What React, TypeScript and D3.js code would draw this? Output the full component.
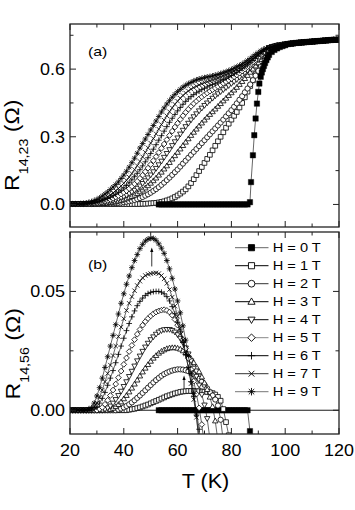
import React from 'react';
import * as d3 from 'd3';

// ---------------- data ----------------
const FIELD_LABELS = ['H = 0 T', 'H = 1 T', 'H = 2 T', 'H = 3 T', 'H = 4 T', 'H = 5 T', 'H = 6 T', 'H = 7 T', 'H = 9 T'];
const SYMBOLS = ['squareFilled', 'square', 'circle', 'triangleUp', 'triangleDown', 'diamond', 'plus', 'cross', 'star'];
const LEGEND_LINE_COLORS = ['#666', '#000', '#333', '#000', '#000', '#888', '#000', '#333', '#777'];

const X_DOMAIN = [20, 120];
const X_TICKS = [20, 40, 60, 80, 100, 120];
const X_MINOR = [30, 50, 70, 90, 110];
const TOP_Y_DOMAIN = [-0.1, 0.8];
const TOP_Y_TICKS = [0, 0.3, 0.6];
const TOP_Y_LABELS = ['0.0', '0.3', '0.6'];
const TOP_Y_MINOR = [0.15, 0.45, 0.75];
const BOT_Y_DOMAIN = [-0.01, 0.075];
const BOT_Y_TICKS = [0, 0.05];
const BOT_Y_LABELS = ['0.00', '0.05'];
const BOT_Y_MINOR = [0.025];

// R14,23 (top panel), H>0 curves: T = 20, 21, ... 93 K
const R23_H1 = [
  0.002, 0.002, 0.002, 0.002, 0.002, 0.002, 0.002, 0.002, 0.002, 0.002,
  0.002, 0.002, 0.002, 0.002, 0.002, 0.002, 0.002, 0.002, 0.002, 0.002,
  0.002, 0.002, 0.002, 0.002, 0.002, 0.002, 0.002, 0.003, 0.003, 0.004,
  0.005, 0.006, 0.007, 0.009, 0.011, 0.014, 0.018, 0.022, 0.027, 0.033,
  0.040, 0.048, 0.057, 0.067, 0.080, 0.095, 0.112, 0.130, 0.148, 0.166,
  0.184, 0.202, 0.220, 0.240, 0.260, 0.280, 0.300, 0.320, 0.340, 0.358,
  0.376, 0.393, 0.410, 0.430, 0.450, 0.475, 0.500, 0.525, 0.550, 0.577,
  0.605, 0.632, 0.658, 0.678];
const R23_H2 = [
  0.002, 0.002, 0.002, 0.002, 0.002, 0.002, 0.002, 0.002, 0.002, 0.002,
  0.002, 0.002, 0.002, 0.003, 0.003, 0.004, 0.005, 0.006, 0.007, 0.008,
  0.010, 0.012, 0.014, 0.017, 0.020, 0.024, 0.028, 0.033, 0.039, 0.045,
  0.052, 0.060, 0.068, 0.077, 0.087, 0.097, 0.108, 0.119, 0.131, 0.143,
  0.155, 0.168, 0.181, 0.194, 0.207, 0.220, 0.233, 0.246, 0.259, 0.272,
  0.285, 0.298, 0.311, 0.324, 0.337, 0.350, 0.363, 0.376, 0.390, 0.404,
  0.418, 0.433, 0.448, 0.464, 0.480, 0.497, 0.514, 0.532, 0.551, 0.571,
  0.592, 0.614, 0.638, 0.664];
const R23_H3 = [
  0.002, 0.002, 0.002, 0.002, 0.002, 0.002, 0.002, 0.002, 0.002, 0.002,
  0.003, 0.003, 0.004, 0.005, 0.006, 0.008, 0.010, 0.012, 0.015, 0.018,
  0.021, 0.025, 0.030, 0.035, 0.041, 0.048, 0.056, 0.064, 0.073, 0.083,
  0.094, 0.105, 0.117, 0.130, 0.143, 0.157, 0.171, 0.186, 0.201, 0.216,
  0.231, 0.246, 0.261, 0.276, 0.291, 0.306, 0.320, 0.334, 0.348, 0.361,
  0.374, 0.387, 0.399, 0.411, 0.423, 0.435, 0.447, 0.459, 0.471, 0.483,
  0.495, 0.507, 0.519, 0.532, 0.545, 0.558, 0.572, 0.586, 0.600, 0.614,
  0.628, 0.643, 0.658, 0.672];
const R23_H4 = [
  0.002, 0.002, 0.002, 0.002, 0.002, 0.002, 0.002, 0.002, 0.003, 0.003,
  0.004, 0.005, 0.007, 0.009, 0.011, 0.014, 0.017, 0.021, 0.025, 0.030,
  0.035, 0.041, 0.048, 0.055, 0.063, 0.072, 0.082, 0.093, 0.105, 0.118,
  0.131, 0.145, 0.160, 0.176, 0.192, 0.209, 0.226, 0.243, 0.261, 0.278,
  0.295, 0.312, 0.329, 0.345, 0.360, 0.375, 0.389, 0.402, 0.415, 0.427,
  0.439, 0.450, 0.461, 0.471, 0.481, 0.491, 0.500, 0.509, 0.518, 0.527,
  0.536, 0.545, 0.554, 0.564, 0.574, 0.584, 0.595, 0.606, 0.618, 0.630,
  0.642, 0.654, 0.667, 0.679];
const R23_H5 = [
  0.002, 0.002, 0.002, 0.002, 0.002, 0.002, 0.002, 0.003, 0.004, 0.005,
  0.006, 0.008, 0.011, 0.014, 0.018, 0.022, 0.027, 0.033, 0.039, 0.046,
  0.053, 0.061, 0.070, 0.080, 0.091, 0.103, 0.116, 0.130, 0.145, 0.161,
  0.177, 0.194, 0.212, 0.230, 0.249, 0.268, 0.287, 0.306, 0.325, 0.343,
  0.360, 0.377, 0.393, 0.408, 0.422, 0.435, 0.447, 0.458, 0.468, 0.477,
  0.486, 0.494, 0.502, 0.509, 0.516, 0.523, 0.530, 0.537, 0.544, 0.551,
  0.558, 0.566, 0.574, 0.582, 0.591, 0.600, 0.610, 0.620, 0.630, 0.641,
  0.652, 0.663, 0.674, 0.684];
const R23_H6 = [
  0.002, 0.002, 0.002, 0.002, 0.002, 0.002, 0.003, 0.004, 0.005, 0.007,
  0.009, 0.012, 0.016, 0.021, 0.026, 0.032, 0.039, 0.046, 0.054, 0.063,
  0.073, 0.084, 0.096, 0.109, 0.123, 0.138, 0.154, 0.171, 0.189, 0.207,
  0.226, 0.245, 0.265, 0.285, 0.305, 0.325, 0.345, 0.364, 0.382, 0.399,
  0.415, 0.430, 0.444, 0.457, 0.468, 0.478, 0.487, 0.495, 0.502, 0.509,
  0.515, 0.521, 0.527, 0.532, 0.537, 0.542, 0.548, 0.554, 0.560, 0.566,
  0.572, 0.579, 0.586, 0.594, 0.602, 0.610, 0.619, 0.628, 0.638, 0.648,
  0.658, 0.668, 0.678, 0.686];
const R23_H7 = [
  0.002, 0.002, 0.002, 0.002, 0.002, 0.003, 0.004, 0.005, 0.007, 0.010,
  0.012, 0.016, 0.021, 0.027, 0.034, 0.042, 0.051, 0.061, 0.071, 0.082,
  0.094, 0.107, 0.121, 0.137, 0.154, 0.172, 0.191, 0.211, 0.231, 0.251,
  0.272, 0.292, 0.313, 0.334, 0.354, 0.374, 0.393, 0.411, 0.428, 0.444,
  0.458, 0.471, 0.483, 0.494, 0.503, 0.511, 0.518, 0.524, 0.530, 0.535,
  0.540, 0.544, 0.548, 0.552, 0.556, 0.560, 0.565, 0.570, 0.575, 0.580,
  0.586, 0.592, 0.598, 0.605, 0.612, 0.620, 0.628, 0.637, 0.646, 0.655,
  0.664, 0.673, 0.682, 0.689];
const R23_H9 = [
  0.003, 0.003, 0.003, 0.003, 0.004, 0.005, 0.006, 0.009, 0.012, 0.017,
  0.022, 0.029, 0.037, 0.046, 0.055, 0.066, 0.077, 0.088, 0.100, 0.115,
  0.130, 0.147, 0.165, 0.185, 0.205, 0.227, 0.250, 0.270, 0.290, 0.310,
  0.330, 0.350, 0.370, 0.390, 0.410, 0.428, 0.445, 0.460, 0.475, 0.488,
  0.500, 0.510, 0.520, 0.528, 0.535, 0.541, 0.547, 0.552, 0.556, 0.559,
  0.562, 0.565, 0.567, 0.570, 0.573, 0.576, 0.580, 0.584, 0.588, 0.593,
  0.598, 0.604, 0.610, 0.616, 0.622, 0.630, 0.638, 0.647, 0.656, 0.665,
  0.673, 0.681, 0.688, 0.692];
// normal state, common to all fields: T = 94, 95, ... 120 K
const R23_NORMAL = [
  0.694, 0.698, 0.701, 0.704, 0.706, 0.708, 0.710, 0.711, 0.713, 0.714,
  0.716, 0.717, 0.718, 0.719, 0.720, 0.721, 0.722, 0.723, 0.724, 0.725,
  0.726, 0.727, 0.728, 0.729, 0.730, 0.730, 0.731];
// H = 0 (top panel)
const R23_H0_T = [
  53, 54, 55, 56, 57, 58, 59, 60, 61, 62, 63, 64, 65, 66, 67, 68, 69,
  70, 71, 72, 73, 74, 75, 76, 77, 78, 79, 80, 81, 82, 83, 84, 85, 86,
  86.9, 87.3, 88.0, 88.5, 89.0, 89.5, 90.0, 90.4, 90.9, 91.3, 91.7, 92.1,
  92.5, 93.0, 93.5, 94, 95, 96, 97, 98, 99, 100];
const R23_H0_R = [
  0, 0, 0, 0, 0, 0, 0, 0, 0, 0, 0, 0, 0, 0, 0, 0, 0,
  0, 0, 0, 0, 0, 0, 0, 0, 0, 0, 0, 0, 0, 0, 0, 0, 0,
  0.010, 0.099, 0.218, 0.307, 0.381, 0.447, 0.499, 0.536, 0.566, 0.585, 0.600, 0.614,
  0.627, 0.640, 0.652, 0.663, 0.676, 0.685, 0.692, 0.698, 0.702, 0.706];

// R14,56 (bottom panel): T = 20, 21, ... K
const R56_H1 = [
  0, 0, 0, 0, 0, 0, 0, 0, 0, 0,
  0, 0, 0, 0, 0, 0, 0, 0, 0, 0,
  0, 0, 0.0002, 0.0004, 0.0006, 0.0009, 0.0012, 0.0016, 0.002, 0.0024,
  0.0029, 0.0034, 0.0039, 0.0044, 0.0049, 0.0054, 0.0059, 0.0063, 0.0067, 0.0071,
  0.0074, 0.0077, 0.0079, 0.008, 0.0081, 0.0081, 0.0081, 0.008, 0.008, 0.0079,
  0.0078, 0.0077, 0.0075, 0.0072, 0.0066, 0.0056, 0.004, 0.0005, -0.005, -0.0105];
const R56_H2 = [
  0, 0, 0, 0, 0, 0, 0, 0, 0, 0,
  0, 0, 0, 0, 0, 0, 0, 0, 0.0003, 0.0007,
  0.0012, 0.0018, 0.0025, 0.0033, 0.0042, 0.0052, 0.0062, 0.0073, 0.0084, 0.0095,
  0.0106, 0.0117, 0.0127, 0.0136, 0.0145, 0.0152, 0.0158, 0.0163, 0.0167, 0.017,
  0.0172, 0.0172, 0.0171, 0.0168, 0.0164, 0.0158, 0.0151, 0.0142, 0.0132, 0.012,
  0.0107, 0.0092, 0.0076, 0.0062, 0.0045, 0.002, -0.004, -0.013];
const R56_H3 = [
  0, 0, 0, 0, 0, 0, 0, 0, 0, 0,
  0, 0, 0, 0, 0, 0.0003, 0.0008, 0.0015, 0.0024, 0.0035,
  0.0048, 0.0062, 0.0077, 0.0093, 0.011, 0.0127, 0.0144, 0.0161, 0.0177, 0.0192,
  0.0206, 0.0219, 0.023, 0.024, 0.0248, 0.0254, 0.0259, 0.0262, 0.0263, 0.0263,
  0.0261, 0.0257, 0.025, 0.0241, 0.023, 0.0216, 0.02, 0.0182, 0.0162, 0.014,
  0.0115, 0.0087, 0.0055, 0.0015, -0.0045, -0.013];
const R56_H4 = [
  0, 0, 0, 0, 0, 0, 0, 0, 0, 0,
  0, 0, 0, 0.0004, 0.001, 0.0018, 0.003, 0.0045, 0.0062, 0.008,
  0.01, 0.012, 0.0142, 0.0164, 0.0186, 0.0208, 0.0228, 0.0248, 0.0266, 0.0282,
  0.0297, 0.0309, 0.032, 0.0329, 0.0335, 0.0339, 0.034, 0.034, 0.0336, 0.0329,
  0.0318, 0.0303, 0.0284, 0.0262, 0.0237, 0.0208, 0.0177, 0.0143, 0.0106, 0.0066,
  0.0022, -0.0035, -0.012];
const R56_H5 = [
  0, 0, 0, 0, 0, 0, 0, 0, 0, 0,
  0, 0.0005, 0.0012, 0.0025, 0.0042, 0.0062, 0.0085, 0.011, 0.0137, 0.0165,
  0.0193, 0.022, 0.0247, 0.0273, 0.0297, 0.032, 0.034, 0.0358, 0.0373, 0.0386,
  0.0397, 0.0406, 0.0413, 0.0418, 0.0421, 0.0423, 0.042, 0.0413, 0.04, 0.0382,
  0.0358, 0.033, 0.0297, 0.026, 0.0218, 0.0172, 0.0122, 0.0068, 0.001, -0.006,
  -0.015];
const R56_H6 = [
  0, 0, 0, 0, 0, 0, 0, 0, 0, 0.0005,
  0.0015, 0.003, 0.005, 0.0075, 0.0105, 0.0135, 0.0167, 0.02, 0.0235, 0.027,
  0.0303, 0.0335, 0.0365, 0.0393, 0.0418, 0.044, 0.0458, 0.0472, 0.0483, 0.0491,
  0.0496, 0.0499, 0.05, 0.05, 0.0497, 0.049, 0.0478, 0.046, 0.0436, 0.0406,
  0.037, 0.033, 0.0285, 0.0235, 0.018, 0.012, 0.0058, -0.0005, -0.008, -0.018];
const R56_H7 = [
  0, 0, 0, 0, 0, 0, 0, 0, 0.0005, 0.0015,
  0.003, 0.0055, 0.0085, 0.012, 0.0155, 0.019, 0.023, 0.027, 0.031, 0.035,
  0.0385, 0.042, 0.045, 0.0478, 0.0503, 0.0525, 0.0543, 0.0557, 0.0567, 0.0572,
  0.0575, 0.0577, 0.0578, 0.0575, 0.0567, 0.0553, 0.0534, 0.0508, 0.0476, 0.0438,
  0.0395, 0.0347, 0.0295, 0.0238, 0.0177, 0.0112, 0.0045, -0.003, -0.012];
const R56_H9 = [
  0, 0, 0, 0, 0, 0, 0, 0.0005, 0.001, 0.003,
  0.006, 0.0095, 0.0135, 0.018, 0.0225, 0.027, 0.0315, 0.036, 0.0405, 0.045,
  0.049, 0.053, 0.0565, 0.06, 0.063, 0.0655, 0.068, 0.0698, 0.0712, 0.072,
  0.0724, 0.0723, 0.0715, 0.07, 0.0682, 0.066, 0.063, 0.0595, 0.0555, 0.051,
  0.046, 0.041, 0.0355, 0.0295, 0.023, 0.0155, 0.007, -0.002, -0.015];
// H = 0 (bottom panel)
const R56_H0_T = [
  53, 54, 55, 56, 57, 58, 59, 60, 61, 62, 63, 64, 65, 66, 67, 68, 69,
  70, 71, 72, 73, 74, 75, 76, 77, 78, 79, 80, 81, 82, 83, 84, 85, 86, 86.9];
const R56_H0_R = [
  0, 0, 0, 0, 0, 0, 0, 0, 0, 0, 0, 0, 0, 0, 0, 0, 0,
  0, 0, 0, 0, 0, 0, 0, 0, 0, 0, 0, 0, 0, 0, 0, 0, 0, -0.0088];

// arrows in panel (b): [T, R from, R to]
const ARROWS = [[50.4, 0.0605, 0.0685], [62.4, 0.0091, 0.0146]];

// ---------------- helpers ----------------
type Pt = [number, number];
const grid = (t0: number, vals: number[]): Pt[] => vals.map((v, i) => [t0 + i, v] as Pt);
const zip = (ts: number[], vs: number[]): Pt[] => ts.map((t, i) => [t, vs[i]] as Pt);

const TOP_SERIES: { sym: string; pts: Pt[] }[] = [
  { sym: SYMBOLS[1], pts: grid(20, R23_H1).concat(grid(94, R23_NORMAL)) },
  { sym: SYMBOLS[2], pts: grid(20, R23_H2).concat(grid(94, R23_NORMAL)) },
  { sym: SYMBOLS[3], pts: grid(20, R23_H3).concat(grid(94, R23_NORMAL)) },
  { sym: SYMBOLS[4], pts: grid(20, R23_H4).concat(grid(94, R23_NORMAL)) },
  { sym: SYMBOLS[5], pts: grid(20, R23_H5).concat(grid(94, R23_NORMAL)) },
  { sym: SYMBOLS[6], pts: grid(20, R23_H6).concat(grid(94, R23_NORMAL)) },
  { sym: SYMBOLS[7], pts: grid(20, R23_H7).concat(grid(94, R23_NORMAL)) },
  { sym: SYMBOLS[8], pts: grid(20, R23_H9).concat(grid(94, R23_NORMAL)) },
  { sym: SYMBOLS[0], pts: zip(R23_H0_T, R23_H0_R).concat(grid(101, R23_NORMAL.slice(7))) },
];
const BOT_SERIES: { sym: string; pts: Pt[] }[] = [
  { sym: SYMBOLS[0], pts: zip(R56_H0_T, R56_H0_R) },
  { sym: SYMBOLS[1], pts: grid(20, R56_H1) },
  { sym: SYMBOLS[2], pts: grid(20, R56_H2) },
  { sym: SYMBOLS[3], pts: grid(20, R56_H3) },
  { sym: SYMBOLS[4], pts: grid(20, R56_H4) },
  { sym: SYMBOLS[5], pts: grid(20, R56_H5) },
  { sym: SYMBOLS[6], pts: grid(20, R56_H6) },
  { sym: SYMBOLS[7], pts: grid(20, R56_H7) },
  { sym: SYMBOLS[8], pts: grid(20, R56_H9) },
];

function symPath(sym: string, s: number): string {
  const r = s;
  switch (sym) {
    case 'square':
    case 'squareFilled': {
      const q = r * 0.9;
      return `M${-q},${-q}H${q}V${q}H${-q}Z`;
    }
    case 'circle':
      return `M${-r},0A${r},${r} 0 1,0 ${r},0A${r},${r} 0 1,0 ${-r},0Z`;
    case 'triangleUp':
      return `M0,${-r * 1.1}L${r * 1.05},${r * 0.75}L${-r * 1.05},${r * 0.75}Z`;
    case 'triangleDown':
      return `M0,${r * 1.1}L${r * 1.05},${-r * 0.75}L${-r * 1.05},${-r * 0.75}Z`;
    case 'diamond':
      return `M0,${-r * 1.1}L${r * 1.1},0L0,${r * 1.1}L${-r * 1.1},0Z`;
    case 'plus':
      return `M${-r * 1.1},0H${r * 1.1}M0,${-r * 1.1}V${r * 1.1}`;
    case 'cross': {
      const q = r * 0.85;
      return `M${-q},${-q}L${q},${q}M${-q},${q}L${q},${-q}`;
    }
    case 'star': {
      const q = r * 0.8;
      return `M${-r * 1.1},0H${r * 1.1}M0,${-r * 1.1}V${r * 1.1}M${-q},${-q}L${q},${q}M${-q},${q}L${q},${-q}`;
    }
  }
  return '';
}
const isOpen = (sym: string) => ['square', 'circle', 'triangleUp', 'triangleDown', 'diamond'].includes(sym);

const FONT = 'Liberation Sans, Arial, Helvetica, sans-serif';

function SText(props: { x: number; y: number; size: number; sx?: number; anchor?: string; rotate?: number; children: any }) {
  const { x, y, size, sx = 1, anchor = 'start', rotate = 0, children } = props;
  return (
    <text
      transform={`translate(${x},${y})${rotate ? ` rotate(${rotate})` : ''} scale(${sx},1)`}
      fontFamily={FONT}
      fontSize={size}
      textAnchor={anchor}
      fill="#000"
    >
      {children}
    </text>
  );
}

const PLOT_LEFT = 70, PLOT_RIGHT = 339;
const PANEL_TOP = { y0: 24, y1: 227 };
const PANEL_BOT = { y0: 232, y1: 434 };

const x = d3.scaleLinear().domain(X_DOMAIN).range([PLOT_LEFT, PLOT_RIGHT]);
const yTop = d3.scaleLinear().domain(TOP_Y_DOMAIN).range([PANEL_TOP.y1, PANEL_TOP.y0]);
const yBot = d3.scaleLinear().domain(BOT_Y_DOMAIN).range([PANEL_BOT.y1, PANEL_BOT.y0]);

function Series({ pts, sym, y }: { pts: Pt[]; sym: string; y: d3.ScaleLinear<number, number> }) {
  const line = d3.line<Pt>().x((d) => x(d[0])).y((d) => y(d[1]));
  const filled = sym === 'squareFilled';
  const d = symPath(sym, filled ? 3.0 : 2.6);
  return (
    <g>
      <path d={line(pts) || ''} fill="none" stroke="#000" strokeWidth={0.6} />
      {pts.map((p, i) => (
        <path
          key={i}
          d={d}
          transform={`translate(${x(p[0]).toFixed(2)},${y(p[1]).toFixed(2)})`}
          fill={filled ? '#000' : isOpen(sym) ? '#fff' : 'none'}
          stroke="#000"
          strokeWidth={filled ? 0.4 : 0.8}
        />
      ))}
    </g>
  );
}

function Frame({ y0, y1, y, major, minor }: { y0: number; y1: number; y: d3.ScaleLinear<number, number>; major: number[]; minor: number[] }) {
  const L = 6, l = 3.5;
  const ticks: JSX.Element[] = [];
  X_TICKS.forEach((t, i) => {
    const xx = x(t);
    ticks.push(<line key={'xb' + i} x1={xx} x2={xx} y1={y1} y2={y1 - L} />);
    ticks.push(<line key={'xt' + i} x1={xx} x2={xx} y1={y0} y2={y0 + L} />);
  });
  X_MINOR.forEach((t, i) => {
    const xx = x(t);
    ticks.push(<line key={'xbm' + i} x1={xx} x2={xx} y1={y1} y2={y1 - l} />);
    ticks.push(<line key={'xtm' + i} x1={xx} x2={xx} y1={y0} y2={y0 + l} />);
  });
  major.forEach((v, i) => {
    const yy = y(v);
    ticks.push(<line key={'yl' + i} x1={PLOT_LEFT} x2={PLOT_LEFT + L} y1={yy} y2={yy} />);
    ticks.push(<line key={'yr' + i} x1={PLOT_RIGHT} x2={PLOT_RIGHT - L} y1={yy} y2={yy} />);
  });
  minor.forEach((v, i) => {
    const yy = y(v);
    ticks.push(<line key={'ylm' + i} x1={PLOT_LEFT} x2={PLOT_LEFT + l} y1={yy} y2={yy} />);
    ticks.push(<line key={'yrm' + i} x1={PLOT_RIGHT} x2={PLOT_RIGHT - l} y1={yy} y2={yy} />);
  });
  return (
    <g stroke="#222" strokeWidth={1}>
      {ticks}
      <rect x={PLOT_LEFT} y={y0} width={PLOT_RIGHT - PLOT_LEFT} height={y1 - y0} fill="none" strokeWidth={1.3} />
    </g>
  );
}

export default function App() {
  const legendY0 = 247.7, legendDy = 18;
  return (
    <svg width={355} height={510} style={{ position: 'absolute', left: 0, top: 0, background: '#fff' }}>
      <rect width={355} height={510} fill="#fff" />
      <defs>
        <clipPath id="clipTop">
          <rect x={PLOT_LEFT} y={PANEL_TOP.y0} width={PLOT_RIGHT - PLOT_LEFT} height={PANEL_TOP.y1 - PANEL_TOP.y0} />
        </clipPath>
        <clipPath id="clipBot">
          <rect x={PLOT_LEFT} y={PANEL_BOT.y0} width={PLOT_RIGHT - PLOT_LEFT} height={PANEL_BOT.y1 - PANEL_BOT.y0} />
        </clipPath>
      </defs>

      {/* top panel */}
      <g clipPath="url(#clipTop)">
        {TOP_SERIES.map((s, i) => (
          <Series key={i} pts={s.pts} sym={s.sym} y={yTop} />
        ))}
      </g>
      <Frame y0={PANEL_TOP.y0} y1={PANEL_TOP.y1} y={yTop} major={TOP_Y_TICKS} minor={TOP_Y_MINOR} />
      {TOP_Y_TICKS.map((v, i) => (
        <SText key={i} x={65} y={yTop(v) + 5.8} size={16} sx={1.12} anchor="end">{TOP_Y_LABELS[i]}</SText>
      ))}
      <SText x={88} y={56} size={13} sx={1.22}>(a)</SText>
      <SText x={19} y={191} size={21} sx={1.1} rotate={-90}>
        <tspan>R</tspan>
        <tspan fontSize={13} dy={9}>14,23</tspan>
        <tspan dy={-9}> (Ω)</tspan>
      </SText>

      {/* bottom panel */}
      <g clipPath="url(#clipBot)">
        <line x1={PLOT_LEFT} x2={PLOT_RIGHT} y1={yBot(0)} y2={yBot(0)} stroke="#000" strokeWidth={0.9} />
        {BOT_SERIES.map((s, i) => (
          <Series key={i} pts={s.pts} sym={s.sym} y={yBot} />
        ))}
        {ARROWS.map((a, i) => {
          const xx = x(a[0]);
          const yA = yBot(a[1]);
          const yB = yBot(a[2]);
          return (
            <g key={i}>
              <line x1={xx} x2={xx} y1={yA} y2={yB + 3} stroke="#000" strokeWidth={0.8} />
              <path d={`M${xx},${yB}L${xx + 1.6},${yB + 4.5}L${xx - 1.6},${yB + 4.5}Z`} fill="#000" />
            </g>
          );
        })}
      </g>
      <Frame y0={PANEL_BOT.y0} y1={PANEL_BOT.y1} y={yBot} major={BOT_Y_TICKS} minor={BOT_Y_MINOR} />
      {BOT_Y_TICKS.map((v, i) => (
        <SText key={i} x={65} y={yBot(v) + 5.8} size={16} sx={1.12} anchor="end">{BOT_Y_LABELS[i]}</SText>
      ))}
      <SText x={88} y={269} size={13} sx={1.22}>(b)</SText>
      <SText x={20} y={399.5} size={21} sx={1.1} rotate={-90}>
        <tspan>R</tspan>
        <tspan fontSize={13} dy={9}>14,56</tspan>
        <tspan dy={-9}> (Ω)</tspan>
      </SText>

      {/* legend */}
      {FIELD_LABELS.map((lab, i) => {
        const cy = legendY0 + i * legendDy;
        const sym = SYMBOLS[i];
        const filled = sym === 'squareFilled';
        return (
          <g key={i}>
            <line x1={235} x2={268.5} y1={cy} y2={cy} stroke={LEGEND_LINE_COLORS[i]} strokeWidth={1} />
            <path
              d={symPath(sym, 3.4)}
              transform={`translate(251.5,${cy})`}
              fill={filled ? '#000' : isOpen(sym) ? '#fff' : 'none'}
              stroke="#000"
              strokeWidth={0.9}
            />
            <SText x={272.7} y={cy + 4.4} size={12.5} sx={1.17}>{lab}</SText>
          </g>
        );
      })}

      {/* x axis labels */}
      {X_TICKS.map((t, i) => (
        <SText key={i} x={x(t)} y={455.5} size={16} sx={1.12} anchor="middle">{String(t)}</SText>
      ))}
      <SText x={205.5} y={488} size={21} sx={1.03} anchor="middle">T (K)</SText>
    </svg>
  );
}
